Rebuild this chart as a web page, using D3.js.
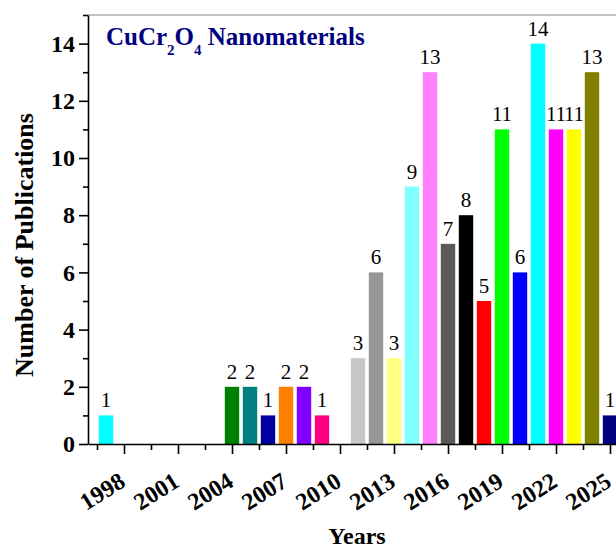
<!DOCTYPE html>
<html><head><meta charset="utf-8">
<script src="https://cdn.jsdelivr.net/npm/d3@7"></script>
<style>body{margin:0;background:#fff;}svg{display:block;}</style>
</head><body>
<svg id="chart" width="616" height="548"></svg>
<script>
const years = [1997, 2004, 2005, 2006, 2007, 2008, 2009, 2011, 2012, 2013, 2014, 2015, 2016, 2017, 2018, 2019, 2020, 2021, 2022, 2023, 2024, 2025];
const counts = [1, 2, 2, 1, 2, 2, 1, 3, 6, 3, 9, 13, 7, 8, 5, 11, 6, 14, 11, 11, 13, 1];
const barColors = ["#00FFFF", "#008000", "#008080", "#0000A0", "#FF8000", "#8000FF", "#FF0080", "#C8C8C8", "#969696", "#FFFF80", "#80FFFF", "#FF80FF", "#595959", "#000000", "#FF0000", "#00FF00", "#0000FF", "#00FFFF", "#FF00FF", "#FFFF00", "#808000", "#000080"];
const xMajorTicks = [1998, 2001, 2004, 2007, 2010, 2013, 2016, 2019, 2022, 2025];
const xMinorTicks = [1996.5, 1999.5, 2002.5, 2005.5, 2008.5, 2011.5, 2014.5, 2017.5, 2020.5, 2023.5];
const yMajorTicks = [0, 2, 4, 6, 8, 10, 12, 14];
const yMinorTicks = [1, 3, 5, 7, 9, 11, 13, 15];

const svg = d3.select("#chart");
const mLeft = 88, mRight = 628, mTop = 15, mBottom = 444;
const x = d3.scaleLinear().domain([1996, 2026]).range([mLeft, mRight]);
const y = d3.scaleLinear().domain([0, 15]).range([mBottom, mTop]);
const serif = "'Liberation Serif','Times New Roman',serif";
const barW = x(1996.8) - x(1996);

// frame top
svg.append("line").attr("x1", mLeft).attr("x2", mRight).attr("y1", mTop).attr("y2", mTop)
  .attr("stroke", "#888").attr("stroke-width", 1.2);

// bars
const data = years.map((yr, i) => ({yr, v: counts[i], c: barColors[i]}));
svg.append("g").selectAll("rect").data(data).join("rect")
  .attr("x", d => x(d.yr) - barW / 2).attr("width", barW)
  .attr("y", d => y(d.v)).attr("height", d => y(0) - y(d.v))
  .attr("fill", d => d.c);

svg.append("g").selectAll("text").data(data).join("text")
  .attr("x", d => x(d.yr)).attr("y", d => y(d.v) - 8)
  .attr("text-anchor", "middle").attr("font-family", serif).attr("font-size", 21)
  .attr("fill", "#000").text(d => d.v);

// x axis
const gx = svg.append("g").attr("transform", `translate(0,${mBottom})`)
  .call(d3.axisBottom(x).tickValues(xMajorTicks).tickSize(10).tickSizeOuter(0).tickFormat(""));
gx.select(".domain").attr("stroke-width", 1.6);
gx.selectAll(".tick line").attr("stroke-width", 1.6);
const gxm = svg.append("g").attr("transform", `translate(0,${mBottom})`)
  .call(d3.axisBottom(x).tickValues(xMinorTicks).tickSize(6).tickFormat(""));
gxm.select(".domain").remove();
gxm.selectAll(".tick line").attr("stroke-width", 1.6);

svg.append("g").selectAll("text").data(xMajorTicks).join("text")
  .attr("transform", d => `translate(${x(d) + 3},${mBottom + 41.5}) rotate(-32)`)
  .attr("text-anchor", "end").attr("font-family", serif).attr("font-weight", "bold")
  .attr("font-size", 24).attr("fill", "#000").text(d => d);

// y axis
const gy = svg.append("g").attr("transform", `translate(${mLeft},0)`)
  .call(d3.axisLeft(y).tickValues(yMajorTicks).tickSize(9).tickSizeOuter(0).tickPadding(4));
gy.select(".domain").attr("stroke-width", 1.6);
gy.selectAll(".tick line").attr("stroke-width", 1.6);
gy.selectAll(".tick text").attr("font-family", serif).attr("font-weight", "bold")
  .attr("font-size", 24).attr("fill", "#000");
const gym = svg.append("g").attr("transform", `translate(${mLeft},0)`)
  .call(d3.axisLeft(y).tickValues(yMinorTicks).tickSize(5).tickFormat(""));
gym.select(".domain").remove();
gym.selectAll(".tick line").attr("stroke-width", 1.6);

// axis titles
svg.append("text").attr("transform", "translate(33,245) rotate(-90)")
  .attr("text-anchor", "middle").attr("font-family", serif).attr("font-weight", "bold")
  .attr("font-size", 26).attr("fill", "#000").text("Number of Publications");
svg.append("text").attr("x", 357).attr("y", 544)
  .attr("text-anchor", "middle").attr("font-family", serif).attr("font-weight", "bold")
  .attr("font-size", 24).attr("fill", "#000").text("Years");

// title
const t = svg.append("text").attr("x", 106).attr("y", 45)
  .attr("font-family", serif).attr("font-weight", "bold").attr("font-size", 25).attr("fill", "#000080");
t.append("tspan").text("CuCr");
t.append("tspan").attr("font-size", 15).attr("dy", 10).text("2");
t.append("tspan").attr("dy", -10).text("O");
t.append("tspan").attr("font-size", 15).attr("dy", 10).text("4");
t.append("tspan").attr("dy", -10).text(" Nanomaterials");
</script>
</body></html>
